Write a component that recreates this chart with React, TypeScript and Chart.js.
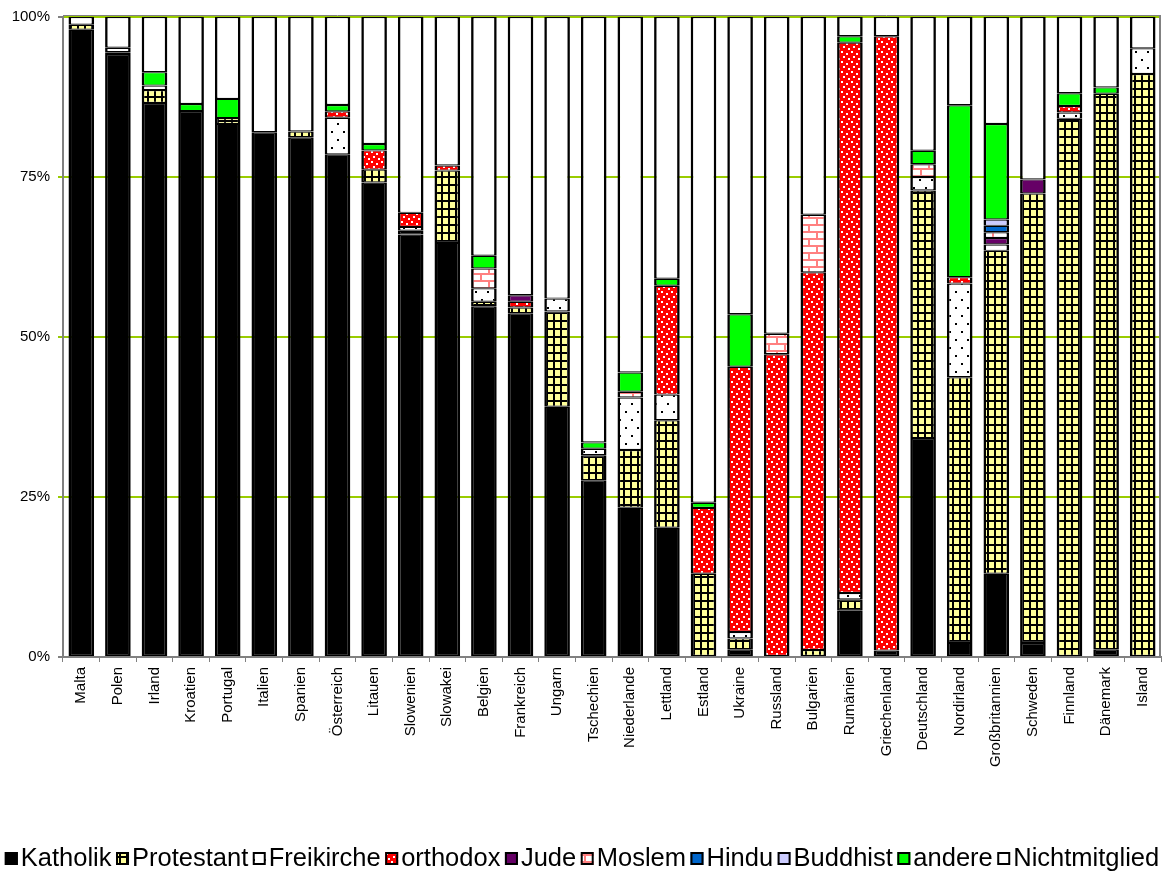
import React, { useEffect, useRef } from 'react';
import { Chart, registerables } from 'chart.js';

Chart.register(...registerables);

// Countries in display order
const countries = [
  'Malta', 'Polen', 'Irland', 'Kroatien', 'Portugal', 'Italien', 'Spanien', 'Österreich',
  'Litauen', 'Slowenien', 'Slowakei', 'Belgien', 'Frankreich', 'Ungarn', 'Tschechien',
  'Niederlande', 'Lettland', 'Estland', 'Ukraine', 'Russland', 'Bulgarien', 'Rumänien',
  'Griechenland', 'Deutschland', 'Nordirland', 'Großbritannien', 'Schweden', 'Finnland',
  'Dänemark', 'Island',
];

// Shares per denomination (%), one value per country
const katholik = [98, 94.2, 86.4, 85.3, 83.3, 82, 81.2, 78.3, 74, 66, 64.7, 54.8, 53.6, 39.1, 27.6, 23.3, 20.2, 0, 1.2, 0, 0, 7.2, 1, 34.2, 2.2, 13, 2.2, 0, 1.2, 0];
const protestant = [0.8, 0.3, 2, 0, 0.9, 0, 0.9, 0, 2, 0.6, 11.3, 0.7, 0.9, 14.9, 3.9, 9, 16.8, 13, 1.7, 0, 1.1, 1.8, 0, 38.7, 41.4, 50.4, 70.3, 84, 86.8, 91.1];
const freikirche = [0, 0.7, 0.7, 0, 0, 0, 0, 5.7, 0, 0.6, 0, 2.1, 0, 2, 1, 8.2, 4, 0, 1, 0, 0, 1, 0, 2.1, 14.6, 1, 0, 1, 0, 4];
const orthodox = [0, 0, 0, 0, 0, 0, 0, 1, 3, 2.2, 0.8, 0, 0.9, 0, 0, 0, 17, 10.3, 41.4, 47.3, 59, 85.9, 96, 0, 1, 0, 0, 1, 0, 0];
const jude = [0, 0, 0, 0, 0, 0, 0, 0, 0, 0, 0, 0, 1, 0, 0, 0, 0, 0, 0, 0, 0, 0, 0, 0, 0, 1, 2.2, 0, 0, 0];
const moslem = [0, 0, 0, 0, 0, 0, 0, 0, 0, 0, 0, 3.1, 0, 0, 0, 0.9, 0, 0, 0, 3.2, 9, 0, 0, 2, 0, 0.9, 0, 0, 0, 0];
const hindu = [0, 0, 0, 0, 0, 0, 0, 0, 0, 0, 0, 0, 0, 0, 0, 0, 0, 0, 0, 0, 0, 0, 0, 0, 0, 1, 0, 0, 0, 0];
const buddhist = [0, 0, 0, 0, 0, 0, 0, 0, 0, 0, 0, 0, 0, 0, 0, 0, 0, 0, 0, 0, 0, 0, 0, 0, 0, 1, 0, 0, 0, 0];
const andere = [0, 0, 2.1, 1.1, 3, 0, 0, 1, 1, 0, 0, 2, 0, 0, 1, 3, 1.1, 0.8, 8.2, 0, 0, 1, 0, 2.1, 26.8, 14.9, 0, 2, 1, 0];
const nichtmitglied = [1.2, 4.8, 8.6, 13.6, 12.8, 18, 17.9, 13.7, 19.8, 30.6, 23.2, 37.3, 43.4, 44, 66.4, 55.5, 40.9, 75.9, 46.4, 49.5, 30.9, 3, 3, 20.9, 13.75, 16.7, 25.4, 11.9, 11, 4.9];

const seriesNames = ['Katholik', 'Protestant', 'Freikirche', 'orthodox', 'Jude', 'Moslem', 'Hindu', 'Buddhist', 'andere', 'Nichtmitglied'];
const seriesValues = [katholik, protestant, freikirche, orthodox, jude, moslem, hindu, buddhist, andere, nichtmitglied];

const yTicks = [0, 25, 50, 75, 100];

const FONT = '"Liberation Sans", Arial, Helvetica, sans-serif';
const GRID_GREEN = '#99CC00';
const AXIS_GRAY = '#808080';

type Paint = (t: CanvasRenderingContext2D) => void;

function makeTile(ctx: CanvasRenderingContext2D, w: number, h: number, paint: Paint): CanvasPattern | string {
  const c = document.createElement('canvas');
  c.width = w;
  c.height = h;
  const t = c.getContext('2d')!;
  paint(t);
  return ctx.createPattern(c, 'repeat') || '#fff';
}

function buildFills(ctx: CanvasRenderingContext2D) {
  const protestantFill = makeTile(ctx, 7, 8, (t) => {
    t.fillStyle = '#FFFF99';
    t.fillRect(0, 0, 7, 8);
    t.fillStyle = '#000';
    t.fillRect(0, 0, 2, 8);
    t.fillRect(0, 0, 7, 2);
  });
  const freikircheFill = makeTile(ctx, 12, 16, (t) => {
    t.fillStyle = '#FFFFFF';
    t.fillRect(0, 0, 12, 16);
    t.fillStyle = '#000';
    t.fillRect(7, 3, 2, 2);
    t.fillRect(1, 11, 2, 2);
  });
  const orthodoxFill = makeTile(ctx, 10, 10, (t) => {
    t.fillStyle = '#FF0000';
    t.fillRect(0, 0, 10, 10);
    t.fillStyle = '#FFFFFF';
    t.fillRect(1, 1, 2, 2);
    t.fillRect(6, 3, 2, 2);
    t.fillRect(3, 6, 2, 2);
    t.fillRect(8, 8, 2, 2);
  });
  const moslemFill = makeTile(ctx, 16, 14, (t) => {
    t.fillStyle = '#FFFFFF';
    t.fillRect(0, 0, 16, 14);
    t.fillStyle = '#FF8080';
    t.fillRect(0, 0, 16, 2);
    t.fillRect(0, 7, 16, 2);
    t.fillRect(8, 0, 2, 7);
    t.fillRect(0, 7, 2, 7);
  });
  return [
    '#000000',
    protestantFill,
    freikircheFill,
    orthodoxFill,
    '#660066',
    moslemFill,
    '#0066CC',
    '#CCCCFF',
    '#00FF00',
    '#FFFFFF',
  ];
}

// Legend row drawn beneath the category labels
const legendRow = {
  id: 'legendRow',
  afterDraw(chart: any) {
    const ctx: CanvasRenderingContext2D = chart.ctx;
    const sets = chart.data.datasets;
    const box = 13;
    const boxGap = 3;
    const itemGap = 4.5;
    ctx.save();
    ctx.font = `25.5px ${FONT}`;
    ctx.textBaseline = 'alphabetic';
    ctx.textAlign = 'left';
    const widths = sets.map((d: any) => ctx.measureText(d.label).width);
    const total = widths.reduce((a: number, w: number) => a + w + box + boxGap, 0) + itemGap * (sets.length - 1);
    let x = (chart.width - total) / 2;
    const baseline = 866;
    sets.forEach((d: any, i: number) => {
      ctx.fillStyle = d.backgroundColor;
      ctx.fillRect(x, baseline - 14, box, box);
      ctx.strokeStyle = '#000';
      ctx.lineWidth = 2;
      ctx.strokeRect(x + 1, baseline - 14 + 1, box - 2, box - 2);
      ctx.fillStyle = '#000';
      ctx.fillText(d.label, x + box + boxGap, baseline);
      x += box + boxGap + widths[i] + itemGap;
    });
    ctx.restore();
  },
};

// Plot-area frame on the top and right edges
const plotFrame = {
  id: 'plotFrame',
  beforeDatasetsDraw(chart: any) {
    const { ctx, chartArea } = chart;
    ctx.save();
    ctx.strokeStyle = AXIS_GRAY;
    ctx.lineWidth = 1;
    ctx.beginPath();
    ctx.moveTo(chartArea.left, chartArea.top - 1.5);
    ctx.lineTo(chartArea.right, chartArea.top - 1.5);
    ctx.stroke();
    ctx.lineWidth = 2;
    ctx.beginPath();
    ctx.moveTo(chartArea.right - 1, chartArea.top - 2);
    ctx.lineTo(chartArea.right - 1, chartArea.bottom);
    ctx.stroke();
    ctx.restore();
  },
};

export default function App() {
  const ref = useRef<HTMLCanvasElement>(null);

  useEffect(() => {
    document.body.style.margin = '0';
    const canvas = ref.current!;
    const ctx = canvas.getContext('2d')!;
    const fills = buildFills(ctx);

    // 100 % stacking: each country's shares are scaled to its total
    const totals = countries.map((_, i) => seriesValues.reduce((s, arr) => s + arr[i], 0));
    const datasets = seriesNames.map((name, k) => ({
      label: name,
      data: seriesValues[k].map((v, i) => (v / totals[i]) * 100),
      backgroundColor: fills[k] as any,
      borderColor: '#000000',
      borderWidth: { top: 1.2, bottom: 1.2, left: 2.6, right: 2.6 },
      borderSkipped: false as const,
      barPercentage: 0.7,
      categoryPercentage: 1,
    }));

    const chart = new Chart(canvas, {
      type: 'bar',
      data: { labels: countries, datasets },
      plugins: [plotFrame, legendRow],
      options: {
        animation: false,
        responsive: true,
        maintainAspectRatio: false,
        devicePixelRatio: 1,
        layout: { padding: { top: 17, right: 3, left: 0, bottom: 0 } },
        plugins: {
          legend: { display: false },
          tooltip: { enabled: false },
        },
        scales: {
          x: {
            stacked: true,
            grid: {
              drawOnChartArea: false,
              drawTicks: true,
              tickLength: 5,
              color: AXIS_GRAY,
              lineWidth: 1,
              offset: true,
            },
            border: { color: AXIS_GRAY, width: 2 },
            ticks: {
              autoSkip: false,
              minRotation: 90,
              maxRotation: 90,
              padding: 5,
              color: '#000',
              font: { family: FONT, size: 15 },
            },
            afterFit(scale: any) {
              scale.height = 217;
              scale.paddingLeft = 0;
              scale.paddingRight = 0;
            },
          },
          y: {
            stacked: true,
            min: 0,
            max: 100,
            afterBuildTicks(scale: any) {
              scale.ticks = yTicks.map((v) => ({ value: v }));
            },
            grid: {
              color: (c: any) => (c.tick && (c.tick.value === 0) ? AXIS_GRAY : GRID_GREEN),
              tickColor: (c: any) => (c.tick && (c.tick.value === 0 || c.tick.value === 100) ? AXIS_GRAY : GRID_GREEN),
              lineWidth: 2,
              tickLength: 5,
            },
            border: { color: AXIS_GRAY, width: 2 },
            ticks: {
              padding: 8,
              color: '#000',
              font: { family: FONT, size: 15 },
              callback: (v: any) => `${v}%`,
            },
            afterFit(scale: any) {
              scale.width = 63;
              scale.paddingTop = 0;
              scale.paddingBottom = 0;
            },
          },
        },
      },
    });

    return () => chart.destroy();
  }, []);

  return (
    <div style={{ width: 1164, height: 874, position: 'relative' }}>
      <canvas ref={ref} />
    </div>
  );
}
